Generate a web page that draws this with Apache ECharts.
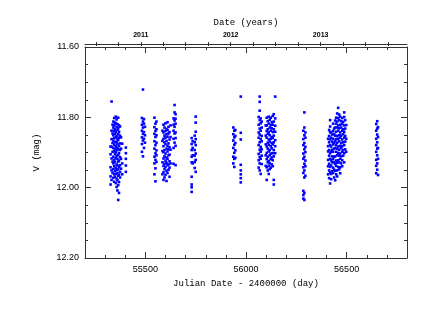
<!DOCTYPE html>
<html>
<head>
<meta charset="utf-8">
<script src="https://cdn.jsdelivr.net/npm/echarts@6/dist/echarts.min.js"></script>
<style>
  html, body { margin: 0; padding: 0; background: #fff; }
  #chart { width: 423px; height: 327px; }
</style>
</head>
<body>
<div id="chart"></div>
<script>
  // observing seasons: [julian date - 2400000, [V magnitudes]]
  var season1 = [
    [55327, [11.883, 11.905, 11.942, 11.968, 11.991]],
    [55332, [11.755, 11.838, 11.862, 11.884, 11.917, 11.951, 11.978]],
    [55337, [11.821, 11.846, 11.873, 11.898, 11.926, 11.958]],
    [55341, [11.812, 11.829, 11.851, 11.866, 11.887, 11.912, 11.931, 11.947, 11.972]],
    [55345, [11.802, 11.823, 11.838, 11.859, 11.878, 11.896, 11.921, 11.939, 11.962, 11.983]],
    [55349, [11.815, 11.834, 11.847, 11.871, 11.891, 11.904, 11.927, 11.953, 11.969]],
    [55353, [11.798, 11.818, 11.842, 11.857, 11.882, 11.899, 11.916, 11.944, 11.961, 11.987]],
    [55357, [11.806, 11.827, 11.853, 11.869, 11.886, 11.909, 11.934, 11.949, 11.974, 11.998]],
    [55361, [11.819, 11.836, 11.861, 11.876, 11.893, 11.918, 11.937, 11.958, 11.979, 12.008]],
    [55365, [11.801, 11.831, 11.848, 11.865, 11.889, 11.907, 11.926, 11.948, 11.966, 11.993, 12.035]],
    [55369, [11.823, 11.841, 11.858, 11.881, 11.902, 11.923, 11.941, 11.963, 11.984, 12.015]],
    [55374, [11.826, 11.852, 11.874, 11.893, 11.913, 11.936, 11.955, 11.971]],
    [55379, [11.857, 11.889, 11.918, 11.946]],
    [55385, [11.875, 11.931, 11.962]],
    [55403, [11.886, 11.902, 11.918, 11.937, 11.955]]
  ]
  var season2 = [
    [55483, [11.802, 11.821, 11.838, 11.857, 11.876, 11.898]],
    [55488, [11.721, 11.812, 11.829, 11.847, 11.866, 11.911]],
    [55493, [11.805, 11.818, 11.842, 11.861, 11.887]],
    [55498, [11.827, 11.851, 11.872]],
    [55545, [11.801, 11.828, 11.847, 11.868, 11.889, 11.912, 11.931, 11.962]],
    [55550, [11.818, 11.839, 11.856, 11.879, 11.902, 11.921, 11.945, 11.982]],
    [55555, [11.812, 11.834, 11.851, 11.872, 11.894, 11.908, 11.927]],
    [55585, [11.838, 11.867, 11.896, 11.928, 11.962]],
    [55590, [11.821, 11.843, 11.861, 11.882, 11.899, 11.917, 11.938, 11.956, 11.978]],
    [55595, [11.829, 11.852, 11.871, 11.893, 11.911, 11.932, 11.947, 11.971]],
    [55600, [11.817, 11.839, 11.858, 11.876, 11.903, 11.923, 11.941, 11.963]],
    [55605, [11.833, 11.848, 11.867, 11.889, 11.914, 11.929, 11.952, 11.981]],
    [55610, [11.814, 11.836, 11.855, 11.881, 11.897, 11.918, 11.936, 11.958]],
    [55615, [11.827, 11.846, 11.874, 11.891, 11.908, 11.934, 11.949]],
    [55620, [11.842, 11.863, 11.885, 11.906, 11.925, 11.943, 11.969]],
    [55625, [11.823, 11.856, 11.892, 11.931]],
    [55640, [11.803, 11.821, 11.838, 11.861, 11.887, 11.932]],
    [55645, [11.765, 11.786, 11.809, 11.827, 11.846, 11.872]],
    [55650, [11.791, 11.804, 11.818, 11.843, 11.859, 11.881, 11.936]],
    [55730, [11.859, 11.876, 11.893, 11.912, 11.928, 11.969, 11.991, 11.999, 12.012]],
    [55735, [11.868, 11.887, 11.908, 11.931]],
    [55745, [11.852, 11.871, 11.893, 11.909, 11.927, 11.944]],
    [55750, [11.798, 11.815, 11.841, 11.862, 11.879, 11.903, 11.921, 11.955]]
  ]
  var season3 = [
    [55937, [11.829, 11.848, 11.866, 11.887, 11.912, 11.931]],
    [55942, [11.838, 11.857, 11.878, 11.901, 11.918, 11.941]],
    [55947, [11.836, 11.853, 11.873, 11.894, 11.915]],
    [55974, [11.741, 11.844, 11.863, 11.935, 11.951, 11.962, 11.973, 11.985]],
    [56063, [11.799, 11.821, 11.843, 11.858, 11.879, 11.904, 11.922, 11.943]],
    [56068, [11.741, 11.756, 11.781, 11.808, 11.832, 11.849, 11.871, 11.892, 11.913, 11.931, 11.951]],
    [56073, [11.803, 11.817, 11.838, 11.862, 11.884, 11.898, 11.918, 11.961]],
    [56078, [11.812, 11.829, 11.853, 11.868, 11.891, 11.909, 11.933]],
    [56098, [11.823, 11.852, 11.877, 11.908, 11.938]],
    [56103, [11.801, 11.823, 11.839, 11.858, 11.883, 11.901, 11.919, 11.942, 11.978]],
    [56108, [11.811, 11.834, 11.847, 11.872, 11.889, 11.912, 11.928, 11.951]],
    [56113, [11.798, 11.818, 11.843, 11.863, 11.878, 11.897, 11.924, 11.938, 11.961]],
    [56118, [11.807, 11.829, 11.851, 11.869, 11.893, 11.908, 11.931, 11.947]],
    [56123, [11.801, 11.822, 11.838, 11.861, 11.882, 11.903, 11.919, 11.943]],
    [56128, [11.814, 11.831, 11.856, 11.873, 11.888, 11.914, 11.934]],
    [56133, [11.796, 11.821, 11.842, 11.859, 11.877, 11.902, 11.922, 11.939]],
    [56138, [11.791, 11.812, 11.834, 11.852, 11.871, 11.893, 11.911, 11.978, 11.991]],
    [56145, [11.741, 11.803, 11.824, 11.841, 11.865, 11.882, 11.902]],
    [56285, [11.838, 11.862, 11.879, 11.903, 11.918, 11.942, 11.958, 12.009, 12.021, 12.031]],
    [56290, [11.786, 11.829, 11.851, 11.873, 11.891, 11.912, 11.932, 11.951, 11.971, 12.015, 12.035]],
    [56295, [11.843, 11.858, 11.884, 11.899, 11.923, 11.939, 11.966]]
  ]
  var season4 = [
    [56408, [11.861, 11.882, 11.897, 11.921, 11.939, 11.962]],
    [56413, [11.836, 11.853, 11.871, 11.893, 11.909, 11.932, 11.951, 11.973]],
    [56418, [11.808, 11.826, 11.842, 11.863, 11.879, 11.902, 11.918, 11.941, 11.957, 11.988]],
    [56423, [11.843, 11.858, 11.883, 11.898, 11.922, 11.937, 11.961, 11.976]],
    [56428, [11.849, 11.869, 11.892, 11.911, 11.928, 11.953]],
    [56433, [11.818, 11.839, 11.861, 11.877, 11.898, 11.919, 11.943, 11.958]],
    [56438, [11.832, 11.848, 11.873, 11.889, 11.912, 11.928, 11.949, 11.971]],
    [56443, [11.809, 11.829, 11.852, 11.868, 11.887, 11.911, 11.932, 11.952, 11.979]],
    [56448, [11.801, 11.818, 11.841, 11.862, 11.879, 11.898, 11.923, 11.938, 11.962]],
    [56453, [11.789, 11.812, 11.829, 11.853, 11.872, 11.889, 11.908, 11.929, 11.951, 11.968]],
    [56458, [11.773, 11.802, 11.823, 11.838, 11.861, 11.883, 11.901, 11.922, 11.941]],
    [56463, [11.792, 11.808, 11.831, 11.851, 11.868, 11.892, 11.909, 11.928, 11.948]],
    [56468, [11.798, 11.821, 11.843, 11.858, 11.881, 11.903, 11.918, 11.942, 11.959]],
    [56473, [11.811, 11.829, 11.852, 11.873, 11.888, 11.911, 11.931]],
    [56478, [11.802, 11.819, 11.838, 11.863, 11.882, 11.898, 11.922, 11.939]],
    [56483, [11.813, 11.834, 11.848, 11.871, 11.893, 11.909]],
    [56488, [11.786, 11.799, 11.823, 11.841, 11.858, 11.879, 11.902, 11.928]],
    [56493, [11.808, 11.832, 11.853, 11.869, 11.891]],
    [56498, [11.822, 11.861, 11.898]],
    [56647, [11.819, 11.838, 11.861, 11.879, 11.898, 11.921, 11.938, 11.959]],
    [56652, [11.811, 11.832, 11.849, 11.871, 11.889, 11.908, 11.931, 11.949]],
    [56656, [11.828, 11.856, 11.887, 11.918, 11.964]]
  ]

  // axis ticks
  var jdMajor = [55500, 56000, 56500]
  var vMajor = [11.6, 11.8, 12.0, 12.2]
  var yearLabels = [2011, 2012, 2013]
  var yearTicks = [2010.5, 2010.75, 2011, 2011.25, 2011.5, 2011.75, 2012, 2012.25,
    2012.5, 2012.75, 2013, 2013.25, 2013.5, 2013.75]

  var points = []
  season1.concat(season2, season3, season4).forEach(function(col) {
    col[1].forEach(function(m) { points.push([col[0], m]) })
  })

  var lineStyle = { color: '#333', width: 1 }
  var labelFont = { fontFamily: 'Liberation Sans', fontSize: 9, color: '#000' }
  var nameFont = { fontFamily: 'Liberation Mono', fontSize: 9, color: '#000' }

  function jdAxis(pos, opts) {
    return Object.assign({
      type: 'value', position: pos, min: 55200, max: 56800, interval: 100,
      axisLine: { show: true, lineStyle: lineStyle },
      axisTick: { show: true, inside: true, length: 3, lineStyle: lineStyle },
      axisLabel: { show: false },
      splitLine: { show: false }
    }, opts)
  }
  function vAxis(pos, opts) {
    return Object.assign({
      type: 'value', position: pos, inverse: true, min: 11.6, max: 12.2, interval: 0.05,
      axisLine: { show: true, lineStyle: lineStyle },
      axisTick: { show: true, inside: true, length: 3, lineStyle: lineStyle },
      axisLabel: { show: false },
      splitLine: { show: false }
    }, opts)
  }
  function yearAxis(opts) {
    return Object.assign({
      type: 'value', position: 'top', offset: 3, min: 2010.38, max: 2013.96,
      axisLine: { show: true, lineStyle: lineStyle },
      axisTick: { show: true, length: 2, customValues: yearTicks, lineStyle: lineStyle },
      axisLabel: { show: false },
      splitLine: { show: false }
    }, opts)
  }

  var chart = echarts.init(document.getElementById('chart'))
  chart.setOption({
    animation: false,
    backgroundColor: '#fff',
    grid: { left: 85, right: 16, top: 47, bottom: 69 },
    xAxis: [
      jdAxis('bottom', {
        name: 'Julian Date - 2400000 (day)',
        nameLocation: 'middle',
        nameGap: 21,
        nameTextStyle: nameFont,
        axisLabel: Object.assign({
          show: true, margin: 7,
          formatter: function(v) { return v % 500 === 0 ? String(v) : '' }
        }, labelFont)
      }),
      jdAxis('bottom', {
        axisLine: { show: false },
        axisTick: { show: true, inside: true, length: 6, customValues: jdMajor, lineStyle: lineStyle }
      }),
      jdAxis('top', {}),
      jdAxis('top', {
        axisLine: { show: false },
        axisTick: { show: true, inside: true, length: 6, customValues: jdMajor, lineStyle: lineStyle }
      }),
      yearAxis({
        name: 'Date (years)',
        nameLocation: 'middle',
        nameGap: 17,
        nameTextStyle: nameFont,
        axisLabel: {
          show: true, margin: 5, customValues: yearLabels,
          formatter: function(v) { return String(Math.round(v)) },
          fontFamily: 'Liberation Sans', fontSize: 7, fontWeight: 'bold', color: '#000'
        }
      }),
      yearAxis({
        axisLine: { show: false },
        axisTick: { show: true, inside: true, length: 2, customValues: yearTicks, lineStyle: lineStyle }
      })
    ],
    yAxis: [
      vAxis('left', {
        name: 'V (mag)',
        nameLocation: 'middle',
        nameGap: 44,
        nameTextStyle: nameFont,
        axisLabel: Object.assign({
          show: true, margin: 6,
          formatter: function(v) { return Math.round(v * 100) % 20 === 0 ? v.toFixed(2) : '' }
        }, labelFont)
      }),
      vAxis('left', {
        axisLine: { show: false },
        axisTick: { show: true, inside: true, length: 6, customValues: vMajor, lineStyle: lineStyle }
      }),
      vAxis('right', {}),
      vAxis('right', {
        axisLine: { show: false },
        axisTick: { show: true, inside: true, length: 6, customValues: vMajor, lineStyle: lineStyle }
      })
    ],
    series: [{
      type: 'scatter',
      xAxisIndex: 0,
      yAxisIndex: 0,
      data: points,
      symbol: 'rect',
      symbolSize: 2.6,
      itemStyle: { color: '#0000ff', opacity: 1 },
      silent: true
    }]
  })
</script>
</body>
</html>
